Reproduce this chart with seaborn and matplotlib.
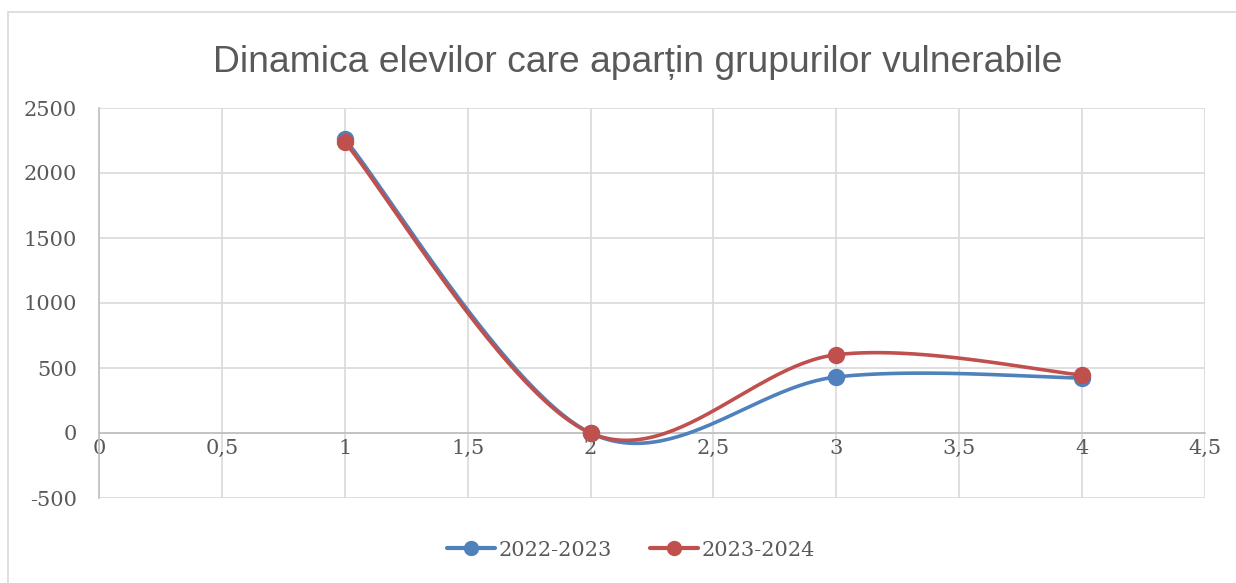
import numpy as np
import pandas as pd
import matplotlib
matplotlib.use("Agg")
import matplotlib.pyplot as plt
import seaborn as sns
from matplotlib.lines import Line2D
from matplotlib.patches import Rectangle

# ---- data ----
x_values = [1, 2, 3, 4]
series_names = ["2022-2023", "2023-2024"]
values_2022_2023 = [2262, 0, 431, 423]
values_2023_2024 = [2238, 0, 602, 446]
x_ticks = [0, 0.5, 1, 1.5, 2, 2.5, 3, 3.5, 4, 4.5]
y_ticks = [-500, 0, 500, 1000, 1500, 2000, 2500]
title = "Dinamica elevilor care aparțin grupurilor vulnerabile"
colors = ["#4F81BD", "#C0504D"]

def smooth(xs, ys, n=60):
    # Excel-like smoothed line (Catmull-Rom Bezier through the points)
    P = np.column_stack([xs, ys]).astype(float)
    P = np.vstack([P[0], P, P[-1]])
    out = []
    for i in range(1, len(P) - 2):
        p0, p1, p2, p3 = P[i - 1], P[i], P[i + 1], P[i + 2]
        c1 = p1 + (p2 - p0) / 6
        c2 = p2 - (p3 - p1) / 6
        t = np.linspace(0, 1, n)[:, None]
        b = (1 - t) ** 3 * p1 + 3 * (1 - t) ** 2 * t * c1 + 3 * (1 - t) * t ** 2 * c2 + t ** 3 * p2
        out.append(b if i == 1 else b[1:])
    out = np.vstack(out)
    return out[:, 0], out[:, 1]

sns.set_theme(style="white")
plt.rcParams["font.family"] = ["DejaVu Serif"]

fig = plt.figure(figsize=(12.36, 5.83), dpi=100)
ax = fig.add_axes([99 / 1236, 1 - 498 / 583, (1205 - 99) / 1236, (498 - 108) / 583])

fig.patches.append(Rectangle((8 / 1236, -0.1), 1.2, 1 - 12 / 583 + 0.1, transform=fig.transFigure,
                             fill=False, edgecolor="#D9D9D9", linewidth=1.2, zorder=0))

for name, vals, c in zip(series_names, [values_2022_2023, values_2023_2024], colors):
    sx, sy = smooth(x_values, vals)
    df_s = pd.DataFrame({"x": sx, "y": sy})
    sns.lineplot(data=df_s, x="x", y="y", sort=False, ax=ax, color=c, linewidth=2.6, zorder=3)
    df_p = pd.DataFrame({"x": x_values, "y": vals})
    ax.plot(df_p["x"], df_p["y"], linestyle="none", marker="o", markersize=11.5,
            color=c, zorder=4)

ax.set_xlim(0, 4.5)
ax.set_ylim(-500, 2500)
ax.set_xticks(x_ticks)
ax.set_yticks(y_ticks)
ax.set_xticklabels([("%g" % v).replace(".", ",") for v in x_ticks])
ax.set_yticklabels([str(v) for v in y_ticks])
ax.set_xlabel("")
ax.set_ylabel("")
ax.grid(True, color="#D9D9D9", linewidth=1.2)
ax.set_axisbelow(True)
for s in ["top", "right"]:
    ax.spines[s].set_visible(False)
ax.spines["left"].set_color("#BFBFBF")
ax.spines["left"].set_linewidth(1.2)
ax.spines["bottom"].set_position(("data", 0))
ax.spines["bottom"].set_color("#BFBFBF")
ax.spines["bottom"].set_linewidth(1.2)
ax.tick_params(axis="both", length=0, labelsize=15, labelcolor="#595959")
ax.tick_params(axis="y", pad=16)
ax.tick_params(axis="x", pad=4)

fig.text(638 / 1236, 1 - 62 / 583, title, ha="center", va="center", fontsize=26.8,
         color="#595959", family=["Liberation Sans", "DejaVu Sans"])

handles = [Line2D([0], [0], color=c, linewidth=3, marker="o", markersize=10) for c in colors]
leg = fig.legend(handles, series_names, loc="center", bbox_to_anchor=(631 / 1236, 1 - 550 / 583),
                 ncol=2, frameon=False, fontsize=15, handlelength=2.3, columnspacing=1.8,
                 handletextpad=0.2)
for t in leg.get_texts():
    t.set_color("#595959")

fig.savefig("out.png", dpi=100)
